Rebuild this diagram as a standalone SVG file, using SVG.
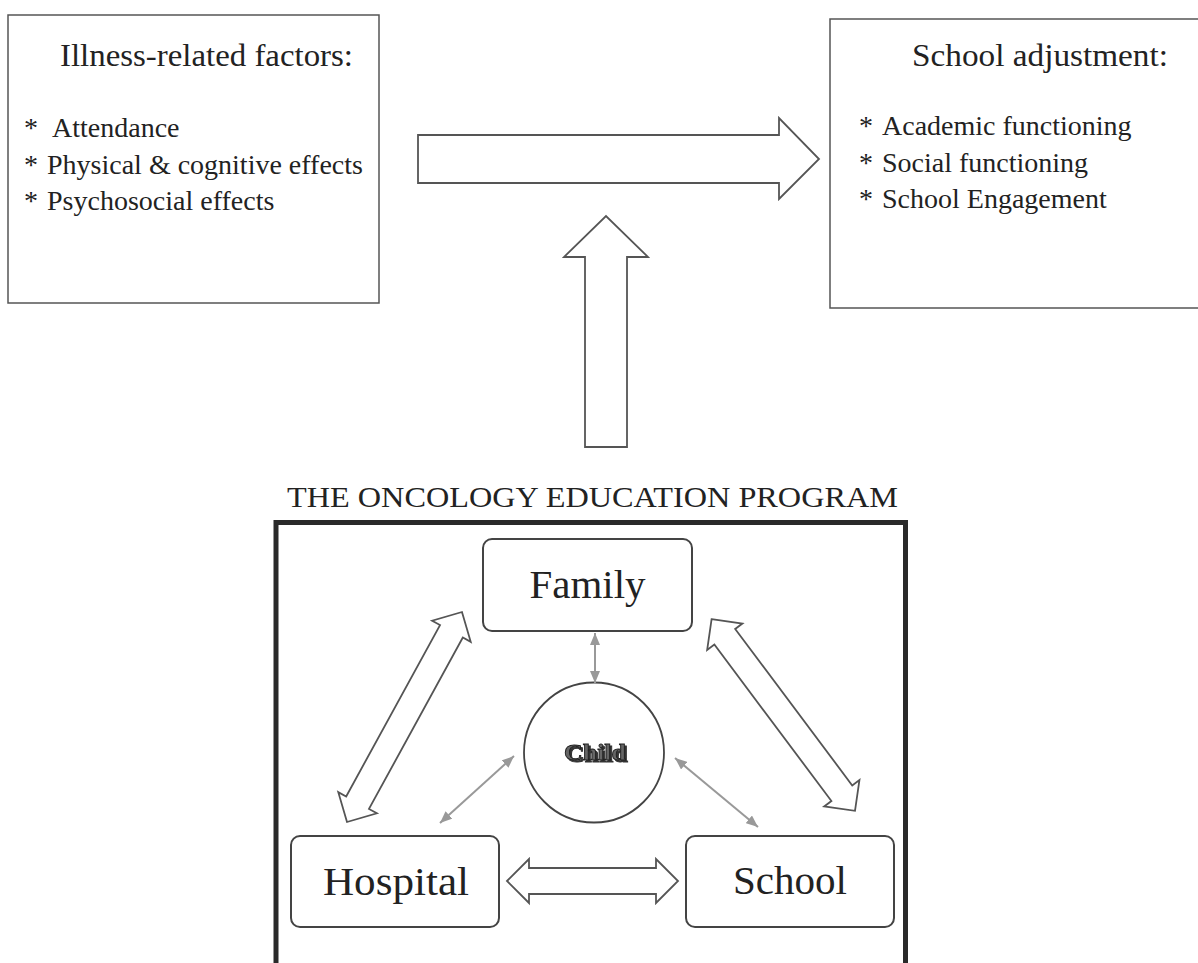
<svg xmlns="http://www.w3.org/2000/svg" width="1198" height="963" viewBox="0 0 1198 963">
  <style>
    .box { fill: #fff; stroke: #555; stroke-width: 1.5; }
    .rbox { fill: #fff; stroke: #444; stroke-width: 2; }
    .frame { fill: none; stroke: #2a2a2a; stroke-width: 5; }
    .bigarrow { fill: #fff; stroke: #555; stroke-width: 1.8; stroke-linejoin: miter; }
    .link { fill: none; stroke: #999; stroke-width: 2; }
    .title { font-family: "Liberation Serif", "Times New Roman", serif; font-size: 31px; fill: #222; }
    .item { font-family: "Liberation Serif", "Times New Roman", serif; font-size: 28px; fill: #222; }
    .head { font-family: "Liberation Serif", "Times New Roman", serif; font-size: 30px; fill: #222; }
    .node { font-family: "Liberation Serif", "Times New Roman", serif; font-size: 41px; fill: #222; text-anchor: middle; }
    .child { font-family: "Liberation Serif", "Times New Roman", serif; font-size: 24px; font-weight: bold; fill: #666; stroke: #222; stroke-width: 0.9; text-anchor: middle; }
  </style>
  <defs>
    <marker id="tip" viewBox="0 0 12 10" refX="12" refY="5" markerWidth="6" markerHeight="5" orient="auto-start-reverse" markerUnits="strokeWidth">
      <path d="M0,0 L12,5 L0,10 Z" fill="#999"/>
    </marker>
    <filter id="shadow" x="-20%" y="-20%" width="140%" height="160%">
      <feOffset in="SourceAlpha" dx="1.6" dy="1.6" result="off"/>
      <feFlood flood-color="#333"/>
      <feComposite in2="off" operator="in" result="sh"/>
      <feMerge><feMergeNode in="sh"/><feMergeNode in="SourceGraphic"/></feMerge>
    </filter>
    <polygon id="dbl239" points="-119.7,0 -97.7,-22 -97.7,-13 97.7,-13 97.7,-22 119.7,0 97.7,22 97.7,13 -97.7,13 -97.7,22"/>
  </defs>

  <!-- top row: causes and outcome -->
  <g id="illness-factors">
    <rect class="box" x="8" y="15" width="371" height="288"/>
    <text class="title" x="60" y="66" textLength="293" lengthAdjust="spacingAndGlyphs">Illness-related factors:</text>
    <text class="item" y="137"><tspan x="24">* </tspan><tspan x="52">Attendance</tspan></text>
    <text class="item" y="174"><tspan x="24">* </tspan><tspan x="47">Physical &amp; cognitive effects</tspan></text>
    <text class="item" y="210"><tspan x="24">* </tspan><tspan x="47">Psychosocial effects</tspan></text>
  </g>

  <g id="school-adjustment">
    <rect class="box" x="830" y="19" width="380" height="289"/>
    <text class="title" x="912" y="66" textLength="256" lengthAdjust="spacingAndGlyphs">School adjustment:</text>
    <text class="item" y="135"><tspan x="859">* </tspan><tspan x="882">Academic functioning</tspan></text>
    <text class="item" y="172"><tspan x="859">* </tspan><tspan x="882">Social functioning</tspan></text>
    <text class="item" y="208"><tspan x="859">* </tspan><tspan x="882">School Engagement</tspan></text>
  </g>

  <!-- program frame -->
  <g id="program">
    <text class="head" x="287" y="507" textLength="611" lengthAdjust="spacingAndGlyphs">THE ONCOLOGY EDUCATION PROGRAM</text>
    <rect class="frame" x="276" y="522.5" width="629.5" height="460"/>
  </g>

  <g id="family">
    <rect class="rbox" x="483" y="539" width="209" height="92" rx="9"/>
    <text class="node" x="587.5" y="598" textLength="116" lengthAdjust="spacingAndGlyphs">Family</text>
  </g>

  <g id="hospital">
    <rect class="rbox" x="291" y="836" width="208" height="91" rx="9"/>
    <text class="node" x="396" y="895" textLength="146" lengthAdjust="spacingAndGlyphs">Hospital</text>
  </g>

  <g id="school">
    <rect class="rbox" x="686" y="836" width="208" height="91" rx="9"/>
    <text class="node" x="790" y="894" textLength="114" lengthAdjust="spacingAndGlyphs">School</text>
  </g>

  <g id="child">
    <circle cx="594" cy="752.5" r="70" fill="#fff" stroke="#444" stroke-width="1.8"/>
    <text class="child" x="595" y="760" textLength="62" lengthAdjust="spacingAndGlyphs" filter="url(#shadow)">Child</text>
  </g>

  <!-- connectors -->
  <g id="connectors">
    <!-- block arrows -->
    <polygon class="bigarrow" points="418,135 779,135 779,118 819,159 779,199 779,183 418,183"/>
    <polygon class="bigarrow" points="585,447 585,257 564,257 606,216 648,257 627,257 627,447"/>
    <polygon class="bigarrow" points="-85.5,0 -63.5,-22 -63.5,-13 63.5,-13 63.5,-22 85.5,0 63.5,22 63.5,13 -63.5,13 -63.5,22" transform="translate(592.5,881)"/>
    <use href="#dbl239" class="bigarrow" transform="translate(404.5,717) rotate(-61.3)"/>
    <use href="#dbl239" class="bigarrow" transform="translate(783.3,715) rotate(53.2)"/>
    <!-- child links -->
    <line class="link" x1="595" y1="633" x2="595" y2="683" marker-start="url(#tip)" marker-end="url(#tip)"/>
    <line class="link" x1="514" y1="756" x2="440" y2="823" marker-start="url(#tip)" marker-end="url(#tip)"/>
    <line class="link" x1="675" y1="758" x2="758" y2="827" marker-start="url(#tip)" marker-end="url(#tip)"/>
  </g>
</svg>
